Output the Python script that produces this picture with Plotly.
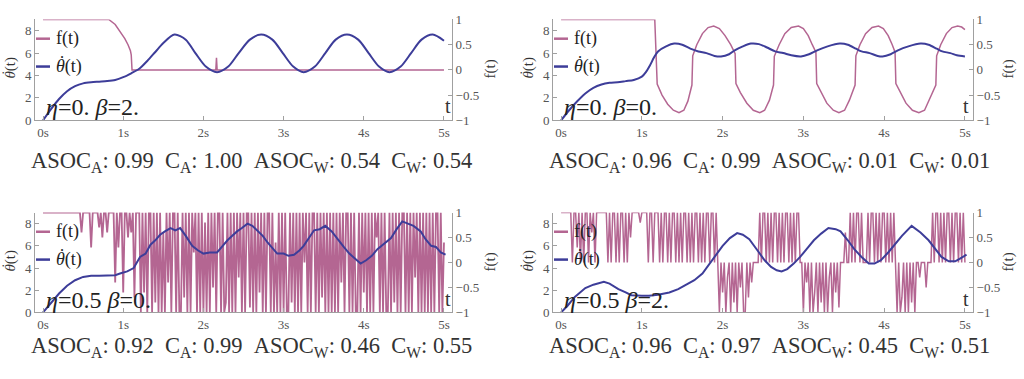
import plotly.graph_objects as go

W, H = 1024, 379

# ---------------- data ----------------
x_tick_vals = [0, 1, 2, 3, 4, 5]
x_tick_text = ["0s", "1s", "2s", "3s", "4s", "5s"]
f_tick_vals = [-1, -0.5, 0, 0.5, 1]
f_tick_text = ["\u22121", "\u22120.5", "0", "0.5", "1"]
th_tick_vals = [0, 2, 4, 6, 8]

eta = ["0.", "0.", "0.5", "0.5"]
beta = ["2.", "0.", "0.", "2."]
asoc_a = [0.99, 0.96, 0.92, 0.96]
c_a = [1.00, 0.99, 0.99, 0.97]
asoc_w = [0.54, 0.01, 0.46, 0.45]
c_w = [0.54, 0.01, 0.55, 0.51]

# panel 1 (eta=0, beta=2)
th1_t = [0, 0.1, 0.2, 0.3, 0.4, 0.5, 0.6, 0.7, 0.8, 0.9, 1.0, 1.1, 1.2, 1.3, 1.4, 1.5,
         1.64, 1.78, 1.9, 2.03, 2.17, 2.31, 2.44, 2.58, 2.72, 2.86, 2.99, 3.12, 3.25,
         3.39, 3.52, 3.65, 3.79, 3.93, 4.06, 4.19, 4.32, 4.46, 4.59, 4.72, 4.86, 5.0]
th1 = [0, 1.0, 1.9, 2.6, 3.05, 3.3, 3.4, 3.45, 3.5, 3.6, 3.85, 4.2, 4.6, 5.3, 6.1, 6.9,
       7.65, 7.2, 6.0, 4.8, 4.3, 4.8, 6.0, 7.2, 7.65, 7.2, 6.0, 4.8, 4.3,
       4.8, 6.0, 7.2, 7.65, 7.2, 6.0, 4.8, 4.3, 4.8, 6.0, 7.2, 7.65, 7.1]
f1_t = [0, 0.82, 0.9, 0.96, 1.02, 1.06, 1.09, 1.1, 1.11, 2.155, 2.163, 2.171, 5.0]
f1 = [1, 1, 0.9, 0.77, 0.62, 0.5, 0.38, 0.3, 0, 0, 0.24, 0, 0]

# panel 2 (eta=0, beta=0)
th2_t = [0, 0.1, 0.2, 0.3, 0.4, 0.5, 0.6, 0.7, 0.8, 0.9, 1.0, 1.05, 1.1, 1.15, 1.2, 1.3,
         1.4, 1.5, 1.6, 1.7, 1.8, 1.9, 1.98, 2.08, 2.15, 2.25, 2.35, 2.45, 2.55, 2.65,
         2.75, 2.85, 2.97, 3.07, 3.17, 3.3, 3.45, 3.55, 3.65, 3.72, 3.82, 3.92, 3.98,
         4.08, 4.17, 4.3, 4.45, 4.55, 4.65, 4.72, 4.82, 4.9, 5.0]
th2 = [0, 0.9, 1.7, 2.4, 2.9, 3.2, 3.35, 3.4, 3.5, 3.6, 3.9, 4.3, 4.9, 5.6, 6.15, 6.6,
       6.85, 6.75, 6.4, 6.15, 6.0, 5.75, 5.7, 5.9, 6.25, 6.6, 6.85, 6.8, 6.5, 6.15,
       6.0, 5.8, 5.7, 5.9, 6.25, 6.6, 6.85, 6.75, 6.4, 6.15, 6.0, 5.75, 5.7,
       5.9, 6.25, 6.6, 6.85, 6.75, 6.4, 6.15, 6.0, 5.8, 5.7]
f2_t = [0, 1.16, 1.19, 1.25, 1.32, 1.39, 1.46, 1.52, 1.57, 1.62,
        1.63, 1.68, 1.75, 1.82, 1.89, 1.96, 2.03, 2.10, 2.155,
        2.165, 2.22, 2.30, 2.38, 2.46, 2.52, 2.58, 2.63,
        2.64, 2.70, 2.77, 2.85, 2.94, 3.00, 3.06, 3.11, 3.155,
        3.165, 3.22, 3.29, 3.37, 3.44, 3.51, 3.57, 3.64,
        3.65, 3.70, 3.77, 3.85, 3.93, 3.99, 4.05, 4.10, 4.135,
        4.145, 4.20, 4.27, 4.35, 4.43, 4.50, 4.56, 4.64,
        4.65, 4.70, 4.77, 4.84, 4.91, 4.96, 5.0]
f2 = [1, 1, -0.28, -0.5, -0.68, -0.8, -0.85, -0.8, -0.62, -0.3,
      0.28, 0.5, 0.72, 0.84, 0.87, 0.82, 0.68, 0.5, 0.32,
      -0.27, -0.45, -0.66, -0.8, -0.85, -0.8, -0.6, -0.3,
      0.27, 0.5, 0.72, 0.84, 0.87, 0.82, 0.68, 0.5, 0.35,
      -0.27, -0.45, -0.66, -0.8, -0.85, -0.8, -0.6, -0.3,
      0.28, 0.5, 0.72, 0.84, 0.87, 0.82, 0.68, 0.5, 0.35,
      -0.27, -0.45, -0.66, -0.8, -0.85, -0.8, -0.6, -0.3,
      0.28, 0.5, 0.72, 0.84, 0.87, 0.85, 0.80]

# panel 3 (eta=0.5, beta=0)
th3_t = [0, 0.1, 0.2, 0.3, 0.4, 0.5, 0.6, 0.7, 0.8, 0.9, 0.96, 1.05, 1.13, 1.21, 1.28,
         1.34, 1.4, 1.46, 1.52, 1.59, 1.65, 1.71, 1.78, 1.86, 1.93, 2.0, 2.08, 2.17,
         2.23, 2.3, 2.36, 2.42, 2.48, 2.55, 2.61, 2.67, 2.74, 2.8, 2.86, 2.92, 3.0,
         3.06, 3.13, 3.2, 3.25, 3.32, 3.38, 3.45, 3.52, 3.6, 3.68, 3.75, 3.82, 3.9,
         3.96, 4.03, 4.1, 4.17, 4.25, 4.34, 4.41, 4.48, 4.55, 4.62, 4.71, 4.77, 4.84,
         4.9, 4.96, 5.02]
th3 = [0, 0.9, 1.7, 2.4, 2.9, 3.2, 3.3, 3.3, 3.3, 3.35, 3.5, 3.7, 4.0, 5.0, 5.3,
       6.1, 6.5, 7.0, 7.3, 7.6, 7.4, 7.6, 6.9, 6.0, 5.6, 5.3, 5.4, 5.4,
       5.9, 6.5, 6.9, 7.3, 7.6, 8.0, 7.8, 7.4, 6.9, 6.3, 5.8, 5.3, 5.3,
       5.1, 5.2, 5.6, 6.0, 6.7, 7.4, 7.5, 7.8, 7.3, 6.5, 5.9, 5.3, 4.8,
       4.4, 4.7, 5.1, 5.7, 6.2, 6.7, 7.5, 8.2, 8.0, 7.8, 7.3, 6.6, 6.0,
       5.9, 5.4, 5.2]
# f(t) sampled every 0.02 s, in tenths
f3_step = 0.02
f3_tenths = [10] * 24 + [
    6, 10, 10, 10, 10, 10, 3, 10, 10, 10, 10, 7, 10, 5, 10, 10, 6, 10, 10, 10,
    10, -4, 10, 3, 10, 10, -6, 10, 10, 5, 10, 6, 10, -7, 10, 10,
    10, -10, 10, -6, 10, -10, 10, 10, -10, 10,
    -8, 10, -10, 10, -10, 6, -10, 10, -4, 10,
    -10, 10, 10, -10, 10, -10, -10, 10, -7, 10,
    -10, 10, -10, 10, 2, 10, -10, 10, -10, 10,
    -10, 8, -10, 10, -10, 10, -5, 10, -10, 10,
    10, -10, 10, -10, -8, 10, -10, 10, -10, 10,
    -10, 10, -3, 10, -10, 10, -10, 10, 10, -9,
    10, -10, 10, -10, 10, -6, 10, -10, 10, -10,
    10, 10, -10, 10, -10, 4, -10, 10, -10, 10,
    -10, 10, -10, -10, 10, -8, 10, -10, 10, -10,
    10, -10, 10, 0, 10, -10, 10, -10, 10, 10,
    -10, 10, -10, 10, -7, 10, -10, 10, -10, 10,
    -10, 10, -10, 10, -10, 10, -4, 10, -10, 10,
    10, -10, 10, -10, 10, -10, -10, 10, -10, 10,
    -6, 10, -10, 10, -10, 10, -10, 10, 5, 10,
    -10, 10, -10, 10, -10, -10, 10, -10, 10, -8,
    10, -10, 10, -10, 10, 10, -10, 10, -10, 10,
    -10, 10, -3, 10, -10, 10, -10, 10, -10, 10,
    -10, 10, -10, 10, -10, 10, 10, -10, 10, -10,
    4]

# panel 4 (eta=0.5, beta=2)
th4_t = [0, 0.08, 0.17, 0.3, 0.4, 0.53, 0.6, 0.71, 0.8, 0.87, 1.0, 1.09, 1.2, 1.34,
         1.45, 1.55, 1.65, 1.75, 1.85, 1.92, 2.0, 2.09, 2.18, 2.25, 2.33, 2.43, 2.52,
         2.6, 2.67, 2.73, 2.8, 2.88, 2.96, 3.05, 3.13, 3.22, 3.31, 3.4, 3.46, 3.55,
         3.63, 3.72, 3.81, 3.88, 3.96, 4.05, 4.13, 4.22, 4.34, 4.45, 4.55, 4.63,
         4.71, 4.8, 4.88, 4.95, 5.02]
th4 = [0, 0.6, 1.4, 2.2, 2.5, 2.75, 2.6, 2.1, 1.8, 1.55, 1.5, 1.5, 1.6, 1.8,
       2.1, 2.5, 2.9, 3.5, 4.5, 5.2, 6.0, 6.7, 7.15, 7.0, 6.6, 5.6, 4.7,
       4.1, 3.8, 3.7, 3.9, 4.4, 5.0, 5.8, 6.5, 7.1, 7.6, 7.5, 7.3, 6.5,
       5.7, 5.0, 4.4, 4.4, 4.7, 5.4, 6.1, 6.9, 7.8, 7.2, 6.5, 5.7,
       5.0, 4.6, 4.6, 4.9, 5.2]
f4_step = 0.02
f4_tenths = (
    [10, 10, 10, 10, 10, 10]
    + [10, 0, 10, 10, 3, 10, 0, 10, 0, 10, 10, 0, 10, 6, 10, 0, 10, 10]
    + [10, 10, 10, 10, 10]
    + [0, 10, 0, 10, 10, 0, 10, 0, 10, 10, 0, 10, 0, 10, 5, 10]
    + [10, 10, 10, 10, 8, 10, 10, 10, 10]
    + [0, 10, 10, 0, 10, 10, 10, 0, 10, 0, 10, 10, 0, 10, 0, 10, 10, 0]
    + [10, 0, 10, 0, 10, 10, 0, 10, 0, 10, 0, 10, 10, 0, 10, 0, 10, 0, 10, 10, 0]
    + [10, 10, 0, 10]
    + [0, -10, 0, -6, 0, -10, -3, 0, -10, 0, -8, 0, -10, 0, -5, 0, -10, -10, 0, -7, 0, -4, 0, 0, 0]
    + [0, 10, 0, 10, 10, 0, 10, 0, 10, 0, 10, 10, 0, 10, 0, 10, 0, 10, 10, 0, 10, 0, 10, 0, 10, 10, 0]
    + [0, -10, 0, -4, 0, -10, 0, -10, -6, 0, -10, 0, -8, 0, -10, 0, -10, -3, 0, -10, 0, -6, 0, -9, 0, 0]
    + [0, 6, 0, 0]
    + [10, 0, 10, 0, 10, 10, 0, 10, 0, 0, 0, 10, 0, 10, 10, 0, 10, 0, 10, 0, 10, 10, 0, 10, 0, 10, 0, 10]
    + [0, -10, 0, -10, -7, 0, -10, 0, -10, 0, -8, 0, -10]
    + [0, 0, -3, 0, 0, 0, -5, 0, 0, 0]
    + [10, 0, 10, 10, 0, 10, 0, 10, 0, 10, 10, 0, 10, 0, 10, 10, 0, 10, 0, 10, 0]
)

# ---------------- styling ----------------
F_COLOR = "rgb(180,102,146)"
TH_COLOR = "rgb(61,61,153)"
AX = "#a0a0a0"
SERIF = "Liberation Serif, Times New Roman, DejaVu Serif, serif"
TICKFONT = dict(family=SERIF, size=13, color="#555555")
THETA_BASE = "<i>θ</i>(t)"
DOT = "\u02d9"

# panel frames in pixels (left, top, right, bottom)
frames = [(35, 13, 452, 118), (553, 13, 973, 118), (35, 214, 452, 318), (553, 214, 973, 318)]
stat_y = [161, 161, 354, 354]


def px(x):
    return x / W


def py(y):
    return 1 - y / H


def grid(vals, step):
    return [round(i * step, 4) for i in range(len(vals))]


f_t_list = [f1_t, f2_t, grid(f3_tenths, f3_step), grid(f4_tenths, f4_step)]
f_v_list = [f1, f2, [v / 10 for v in f3_tenths], [v / 10 for v in f4_tenths]]
th_t_list = [th1_t, th2_t, th3_t, th4_t]
th_v_list = [th1, th2, th3, th4]
th_shape = ["spline", "spline", "linear", "linear"]
f_width = [1.5, 1.5, 1.8, 1.5]

fig = go.Figure()
layout = dict(
    width=W, height=H, autosize=False,
    margin=dict(l=0, r=0, t=0, b=0),
    paper_bgcolor="white", plot_bgcolor="white",
    showlegend=False,
    font=dict(family=SERIF),
)
annotations = []
shapes = []


def note(x, y, text, size, color="#222222", xanchor="center", angle=0):
    annotations.append(dict(xref="paper", yref="paper", x=px(x), y=py(y),
                            xanchor=xanchor, yanchor="middle", showarrow=False,
                            textangle=angle, text=text,
                            font=dict(family=SERIF, size=size, color=color)))


for i in range(4):
    n = i + 1
    xname = "x" if n == 1 else f"x{n}"
    ybase = "y" if n == 1 else f"y{n}"
    yover = f"y{n + 4}"
    x0, y0, x1, y1 = frames[i]

    fig.add_trace(go.Scatter(x=f_t_list[i], y=f_v_list[i], xaxis=xname, yaxis=ybase,
                             mode="lines", line=dict(color=F_COLOR, width=f_width[i]),
                             hoverinfo="skip"))
    fig.add_trace(go.Scatter(x=th_t_list[i], y=th_v_list[i], xaxis=xname, yaxis=yover,
                             mode="lines",
                             line=dict(color=TH_COLOR, width=2, shape=th_shape[i], smoothing=0.8),
                             hoverinfo="skip"))

    common = dict(showgrid=False, zeroline=False, showline=True, linecolor=AX, linewidth=1,
                  ticks="inside", ticklen=4, tickcolor=AX, tickfont=TICKFONT)
    layout["xaxis" if n == 1 else f"xaxis{n}"] = dict(
        domain=[px(x0), px(x1)], range=[-0.1, 5.1], anchor=ybase,
        tickvals=x_tick_vals, ticktext=x_tick_text, **common)
    layout["yaxis" if n == 1 else f"yaxis{n}"] = dict(
        domain=[py(y1), py(y0)], range=[-1, 1], anchor=xname, side="right",
        tickvals=f_tick_vals, ticktext=f_tick_text, **common)
    layout[f"yaxis{n + 4}"] = dict(
        overlaying=ybase, range=[0, 9], anchor=xname, side="left",
        tickvals=th_tick_vals, **common)

    # legend (line samples + labels)
    for k, (col, label) in enumerate([(F_COLOR, "f(t)"), (TH_COLOR, THETA_BASE)]):
        yy = y0 + 20 + 29 * k
        shapes.append(dict(type="line", xref="paper", yref="paper",
                           x0=px(x0 + 1), x1=px(x0 + 15), y0=py(yy), y1=py(yy),
                           line=dict(color=col, width=2.5)))
        note(x0 + 19, yy, label, 18, xanchor="left")
        if k == 1:
            note(x0 + 27, yy - 4, DOT, 18)
    # parameters
    note(x0 + 9, y0 + 91, f"<i>η</i>={eta[i]} <i>β</i>={beta[i]}", 24, xanchor="left")
    # axis labels
    note(x0 + 413, y0 + 90, "t", 20, color="#333333")
    note(x0 - 24, y0 + 50, THETA_BASE, 15, color="#333333", angle=-90)
    note(x0 - 28, y0 + 56, DOT, 15, color="#333333", angle=-90)
    note(x0 + 455, y0 + 52, "f(t)", 15, color="#333333", angle=-90)
    # statistics line
    sp = " \u00a0"
    stat = (f"ASOC<sub>A</sub>: {asoc_a[i]:.2f}{sp}C<sub>A</sub>: {c_a[i]:.2f}{sp}"
            f"ASOC<sub>W</sub>: {asoc_w[i]:.2f}{sp}C<sub>W</sub>: {c_w[i]:.2f}")
    note(x0 + 216, stat_y[i], stat, 22.5, color="#333333")

layout["annotations"] = annotations
layout["shapes"] = shapes
fig.update_layout(**layout)
fig.write_html("out.html",
               config={"displayModeBar": False, "staticPlot": True},
               post_script="document.body.style.margin='0';document.body.style.overflow='hidden';")
